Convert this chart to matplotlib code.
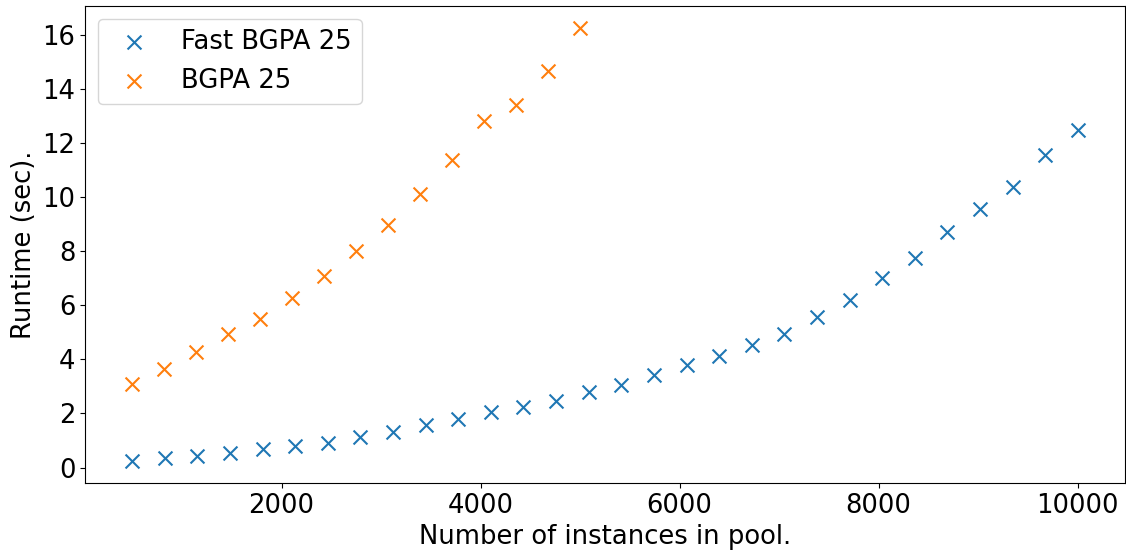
import numpy as np
import matplotlib.pyplot as plt

plt.rcParams['font.size'] = 18.6

# pool sizes
n_fast = np.linspace(500, 10000, 30)
n_slow = np.linspace(500, 5000, 15)

# runtimes in seconds
t_fast = [0.23, 0.36, 0.44, 0.54, 0.69, 0.79, 0.91, 1.14, 1.32, 1.56,
          1.78, 2.06, 2.23, 2.48, 2.78, 3.07, 3.43, 3.78, 4.12, 4.53,
          4.95, 5.57, 6.19, 7.02, 7.77, 8.72, 9.56, 10.40, 11.56, 12.49]
t_slow = [3.11, 3.63, 4.28, 4.96, 5.51, 6.26, 7.09, 8.01, 8.96, 10.12,
          11.38, 12.84, 13.42, 14.67, 16.28]

fig, ax = plt.subplots(figsize=(11.26, 5.52), dpi=100)
ax.scatter(n_fast, t_fast, marker='x', s=100, label='Fast BGPA 25')
ax.scatter(n_slow, t_slow, marker='x', s=100, label='BGPA 25')
ax.set_xlabel('Number of instances in pool.')
ax.set_ylabel('Runtime (sec).')
ax.legend(loc='upper left')
fig.subplots_adjust(left=85/1126, right=1125/1126, top=1-6/552, bottom=1-483/552)
fig.savefig('out.png')
